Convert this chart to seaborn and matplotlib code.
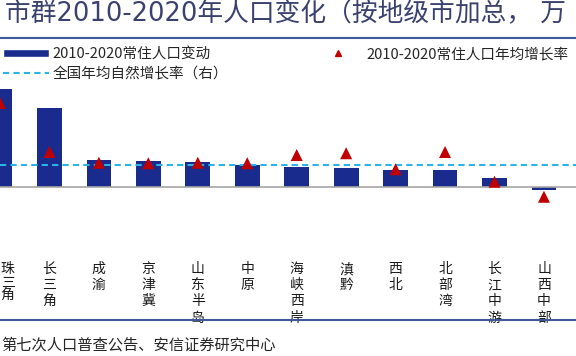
import numpy as np
import pandas as pd
import matplotlib
matplotlib.use("Agg")
import matplotlib.pyplot as plt
from matplotlib.lines import Line2D
from matplotlib.patches import Patch
import seaborn as sns

# values (left: 万人, right: %)
categories = ["珠三角", "长三角", "成渝", "京津冀", "山东半岛", "中原",
              "海峡西岸", "滇黔", "西北", "北部湾", "长江中游", "山西中部"]
pop_change = [2189, 1758, 596, 574, 552, 491, 447, 424, 380, 380, 194, -67]
growth_rate = [3.36, 1.40, 0.97, 0.95, 0.97, 0.95, 1.28, 1.35, 0.71, 1.40, 0.21, -0.39]
natl_rate = 0.88

bar_label = "2010-2020常住人口变动"
rate_label = "2010-2020常住人口年均增长率"
natl_label = "全国年均自然增长率（右）"
title = "市群2010-2020年人口变化（按地级市加总， 万"
source = "第七次人口普查公告、安信证券研究中心"

bar_color = "#1a2b8e"
red = "#c00000"
cyan = "#2bb3e8"
frame_color = "#41579c"
title_color = "#3a416e"
text_color = "#262626"

sns.set_style("white")
plt.rcParams["font.family"] = ["Noto Sans CJK SC", "DejaVu Sans"]
plt.rcParams["axes.unicode_minus"] = False

fig = plt.figure(figsize=(5.76, 3.56), dpi=100)
ax = fig.add_axes([0, 0.3961, 1, 0.3792])

df = pd.DataFrame({"region": categories, "change": pop_change})
sns.barplot(data=df, x="region", y="change", color=bar_color, saturation=1,
            width=0.5, linewidth=0, ax=ax)

# growth rate on the right axis
ax2 = ax.twinx()
sns.scatterplot(x=np.arange(len(categories)), y=growth_rate, marker="^", s=75,
                color=red, edgecolor="none", legend=False, zorder=3, ax=ax2)
ax2.axhline(natl_rate, color=cyan, lw=1.5, ls=(0, (3, 2)), zorder=2)

ax.set_ylim(-625, 2390)
ax2.set_ylim(-1.12, 4.28)
ax.set_xlim(0.0704, 11.648)

# axis cosmetics
ax.set_xlabel("")
ax.set_ylabel("")
ax2.set_ylabel("")
ax.set_yticks([])
ax2.set_yticks([])
vert_labels = ["\n".join(c) for c in categories]
ax.set_xticks(np.arange(len(categories)))
# first category sits on the left edge: its label is drawn separately below
ax.set_xticklabels([""] + vert_labels[1:], fontsize=10, linespacing=0.95)
ax.set_xticks(np.arange(len(categories)) + 0.5, minor=True)
ax.tick_params(axis="x", which="major", length=0, pad=54, labelcolor="#1a1a1a")
ax.tick_params(axis="x", which="minor", length=3, width=1, color="#a6a6a6", direction="out")
ax.annotate(vert_labels[0], xy=(0, 0), xycoords=("axes fraction", "data"),
            xytext=(0.5, -54), textcoords="offset points", ha="left", va="top",
            fontsize=10, linespacing=0.95, color="#1a1a1a", annotation_clip=False)
for s in ["top", "left", "right"]:
    ax.spines[s].set_visible(False)
for s in ax2.spines.values():
    s.set_visible(False)
ax.spines["bottom"].set_position(("data", 0))
ax.spines["bottom"].set_color("#a6a6a6")
ax.spines["bottom"].set_linewidth(1.2)

# legend entries placed one by one
leg_kw = dict(frameon=False, fontsize=10.5, handlelength=3.15, borderpad=0,
              borderaxespad=0, labelcolor=text_color, loc="center left")
fig.legend(handles=[Patch(facecolor=bar_color)], labels=[bar_label],
           bbox_to_anchor=(3 / 576, 0.8483), handleheight=0.5, handletextpad=0.27, **leg_kw)
fig.legend(handles=[Line2D([], [], color=cyan, lw=1.5, ls=(0, (3, 2)))], labels=[natl_label],
           bbox_to_anchor=(3 / 576, 0.7921), handletextpad=0.27, **leg_kw)
fig.legend(handles=[Line2D([], [], marker="^", ls="none", color=red, markersize=4.5)],
           labels=[rate_label], bbox_to_anchor=(315 / 576, 0.8483), handletextpad=0.4,
           numpoints=1, **leg_kw)

# title, frame lines, source
fig.text(5 / 576, 0.9635, title, fontsize=18.5, color=title_color, va="center", ha="left",
         family=["DejaVu Sans", "Noto Sans CJK SC"])
fig.add_artist(Line2D([0, 1], [0.8930, 0.8930], transform=fig.transFigure,
                      color=frame_color, lw=1.5))
fig.add_artist(Line2D([0, 1], [0.1011, 0.1011], transform=fig.transFigure,
                      color=frame_color, lw=1.5))
fig.text(1 / 576, 0.0309, source, fontsize=11, color=text_color, va="center", ha="left")

fig.savefig("out.png", dpi=100)
